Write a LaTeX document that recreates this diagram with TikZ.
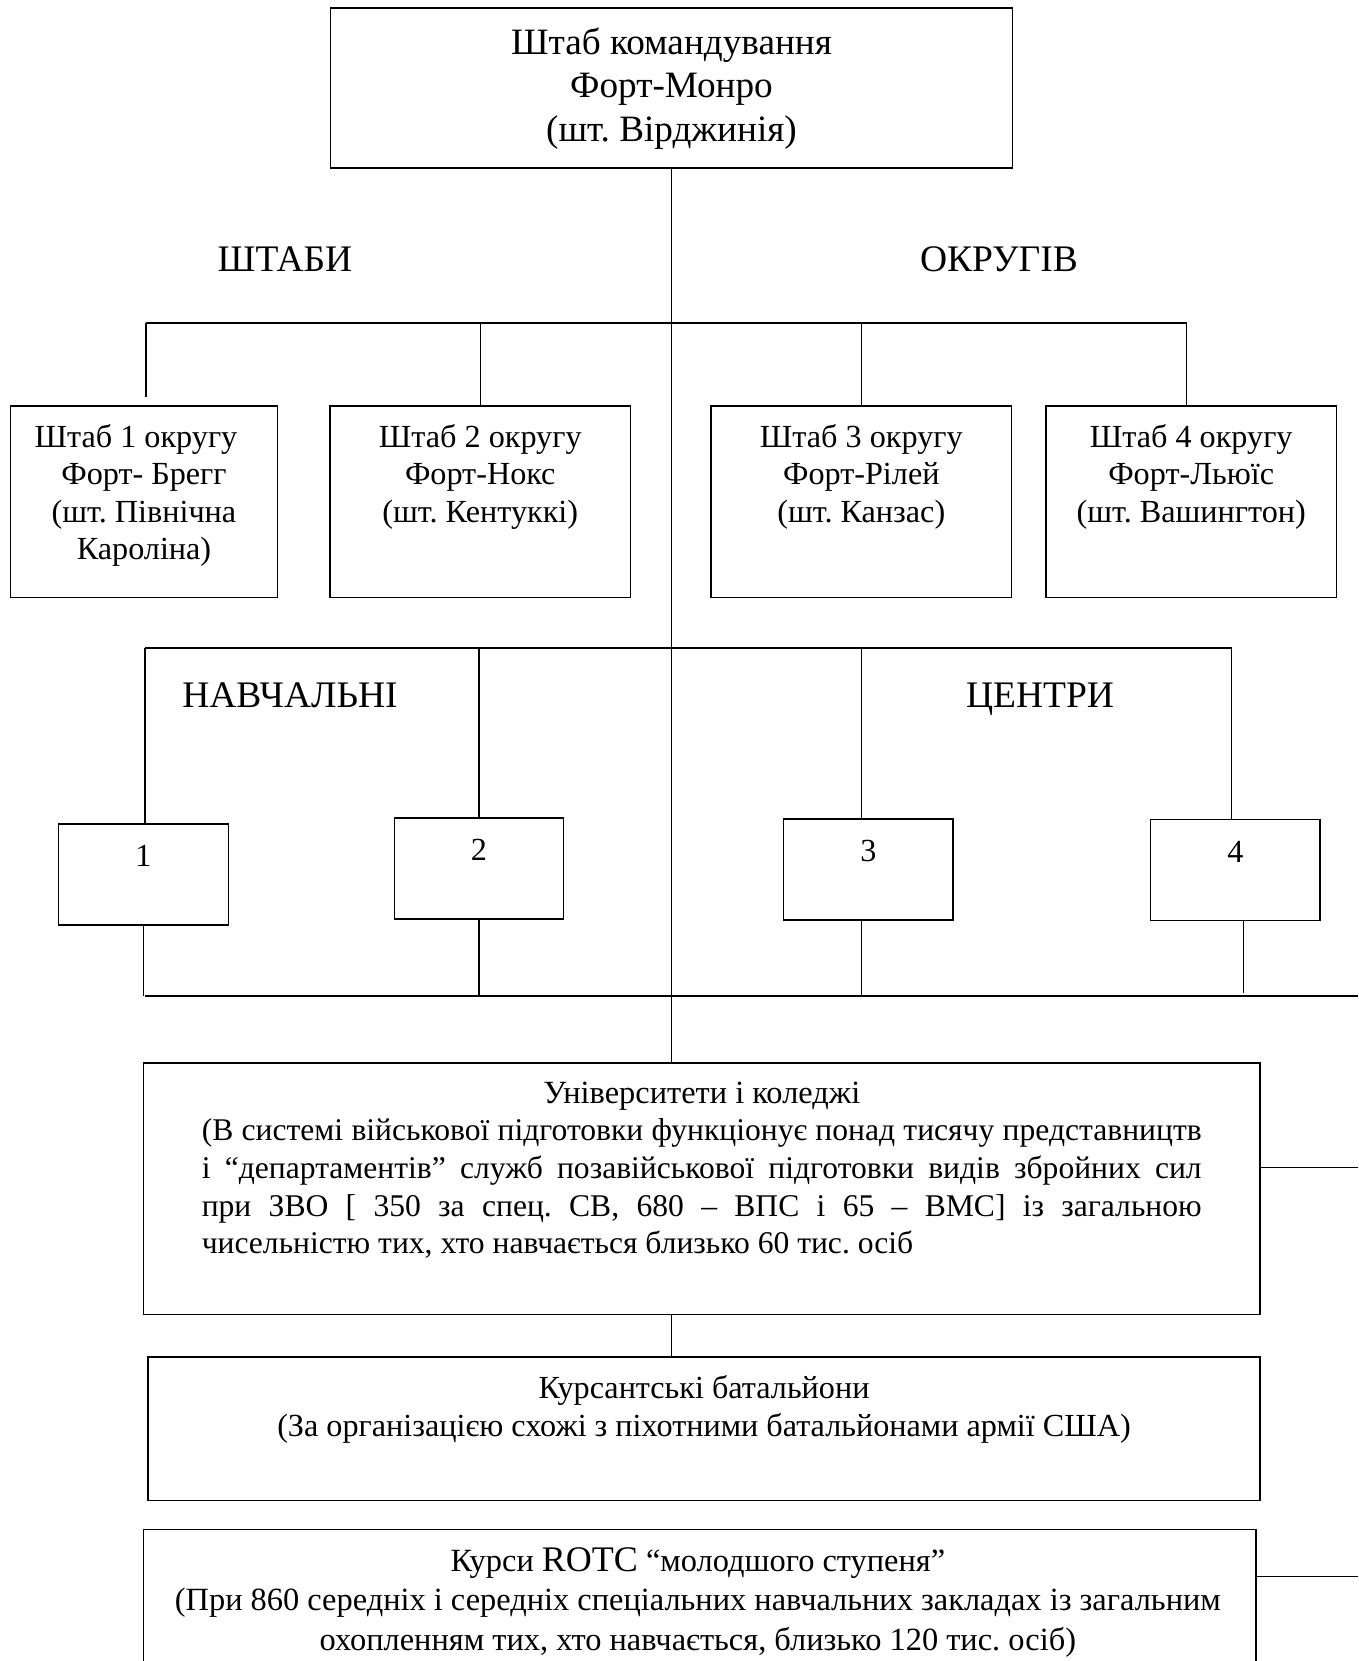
\documentclass[tikz,border=0pt]{standalone}
\usepackage{fontspec}
\setmainfont{Liberation Serif}
\hyphenpenalty=10000
\frenchspacing
\begin{document}
\begin{tikzpicture}[x=1pt,y=-1pt,line width=1.3pt,
  box/.style={draw,rectangle,inner sep=0pt},
  txt/.style={inner sep=0pt,text width=1100pt,align=center,anchor=base,font=\fontsize{32.2}{37.5}\selectfont,
    execute at begin node={\centering\spaceskip=0pt\xspaceskip=0pt}},
  head/.style={txt,font=\fontsize{37.5}{40}\selectfont},
  bus/.style={line width=2pt}]
\useasboundingbox (0,0) rectangle (1358,1661);
\clip (0,0) rectangle (1358,1661);
% command HQ
\node[box,minimum width=682pt,minimum height=160pt] (hq) at (671.5,88) {};
\node[txt,font=\fontsize{37.2}{43.5}\selectfont] (hqt) at ([yshift=-47pt]hq.north)
  {Штаб командування\\Форт-Монро\\(шт. Вірджинія)};
\node[head] (shtaby) at (285,272) {ШТАБИ};
\node[head] (okruhiv) at (999,272) {ОКРУГІВ};
% district HQs
\node[box,minimum width=267pt,minimum height=191.6pt] (b1) at (144,501.8) {};
\node[box,minimum width=300.5pt,minimum height=191.6pt] (b2) at (480.25,501.8) {};
\node[box,minimum width=300.6pt,minimum height=191.6pt] (b3) at (861.3,501.8) {};
\node[box,minimum width=290.4pt,minimum height=191.6pt] (b4) at (1191.2,501.8) {};
\node[txt] (b1t) at ([yshift=-42pt]b1.north) {Штаб 1 округу\ \ \mbox{}\\Форт- Брегг\\(шт. Північна\\Кароліна)};
\node[txt] (b2t) at ([yshift=-42pt]b2.north) {Штаб 2 округу\\Форт-Нокс\\(шт. Кентуккі)};
\node[txt] (b3t) at ([yshift=-42pt]b3.north) {Штаб 3 округу\\Форт-Рілей\\(шт. Канзас)};
\node[txt] (b4t) at ([yshift=-42pt]b4.north) {Штаб 4 округу\\Форт-Льюїс\\(шт. Вашингтон)};
\coordinate (hqbusL) at (146,323);
\coordinate (hqbusR) at (1186.7,323);
\draw[bus] (hqbusL) -- (hqbusR);
\draw (hqbusL) -- ([yshift=8pt]b1.north -| hqbusL);
\draw (b2.north |- hqbusL) -- (b2.north);
\draw (b3.north |- hqbusL) -- (b3.north);
\draw (hqbusR) -- (hqbusR |- b4.north);
% training centres
\node[head] (navch) at (290,707) {НАВЧАЛЬНІ};
\node[head] (tsentry) at (1040,707) {ЦЕНТРИ};
\foreach \i/\x/\y in {1/143.4/874.5, 2/479/868.5, 3/868.3/869.5, 4/1235.3/870.25}{
  \node[box,minimum width=169.5pt,minimum height=101pt] (c\i) at (\x,\y) {};
  \node[txt] (c\i t) at ([yshift=-43pt]c\i.north) {\i};
}
\coordinate (tcbusL) at (145,648);
\coordinate (tcbusR) at (1231.6,648);
\draw[bus] (tcbusL) -- (tcbusR);
\draw (tcbusL) -- (tcbusL |- c1.north);
\draw (c2.north |- tcbusL) -- (c2.north);
\draw (b3.south |- tcbusL) -- (b3.south |- c3.north);
\draw (tcbusR) -- (tcbusR |- c4.north);
\coordinate (lowbusL) at (145,996);
\coordinate (lowbusR) at (1358,996);
\draw[bus] (lowbusL) -- (lowbusR);
\draw (c1.south) -- (c1.south |- lowbusL);
\draw (c2.south) -- (c2.south |- lowbusL);
\draw (b3.south |- c3.south) -- (b3.south |- lowbusL);
\draw ([xshift=8pt]c4.south) -- ([xshift=8pt,yshift=3pt]c4.south |- lowbusL);
% universities, cadets, ROTC
\node[box,minimum width=1116.5pt,minimum height=251.5pt] (univ) at (701.75,1188.75) {};
\node[inner sep=0pt,anchor=base,text width=1000pt,align=left,font=\fontsize{31.6}{37.6}\selectfont,
  execute at begin node={\spaceskip=0pt\xspaceskip=0pt}] (univt) at ([yshift=-41pt]univ.north)
  {\makebox[1000pt]{\fontsize{32.4}{37.6}\selectfont Університети і коледжі}\\
   \makebox[1000pt][s]{(В системі військової підготовки функціонує понад тисячу представництв}\\
   \makebox[1000pt][s]{і “департаментів” служб позавійськової підготовки видів збройних сил}\\
   \makebox[1000pt][s]{при ЗВО [ 350 за спец. СВ, 680 – ВПС і 65 – ВМС] із загальною}\\
   чисельністю тих, хто навчається близько 60 тис. осіб};
\node[box,minimum width=1112pt,minimum height=143.6pt] (cadet) at (704,1428.8) {};
\node[txt] (cadett) at ([yshift=-42.5pt]cadet.north)
  {Курсантські батальйони\\(За організацією схожі з піхотними батальйонами армії США)};
\node[box,minimum width=1112.2pt,minimum height=170.5pt] (rotc) at (699.9,1614.75) {};
\node[txt,font=\fontsize{32.4}{39.5}\selectfont] (rotct) at ([xshift=-2pt,yshift=-42.5pt]rotc.north)
  {Курси {\fontsize{36}{39.5}\selectfont ROTC} “молодшого ступеня”\\(При 860 середніх і середніх спеціальних навчальних закладах із загальним\\охопленням тих, хто навчається, близько 120 тис. осіб)};
\coordinate (univedge) at (1358,1167.5);
\coordinate (rotcedge) at (1358,1576.5);
\draw (hq.south) -- (hq.south |- univ.north);
\draw (hq.south |- univ.south) -- (hq.south |- cadet.north);
\draw (univ.east |- univedge) -- (univedge);
\draw (rotc.east |- rotcedge) -- (rotcedge);
\end{tikzpicture}
\end{document}
